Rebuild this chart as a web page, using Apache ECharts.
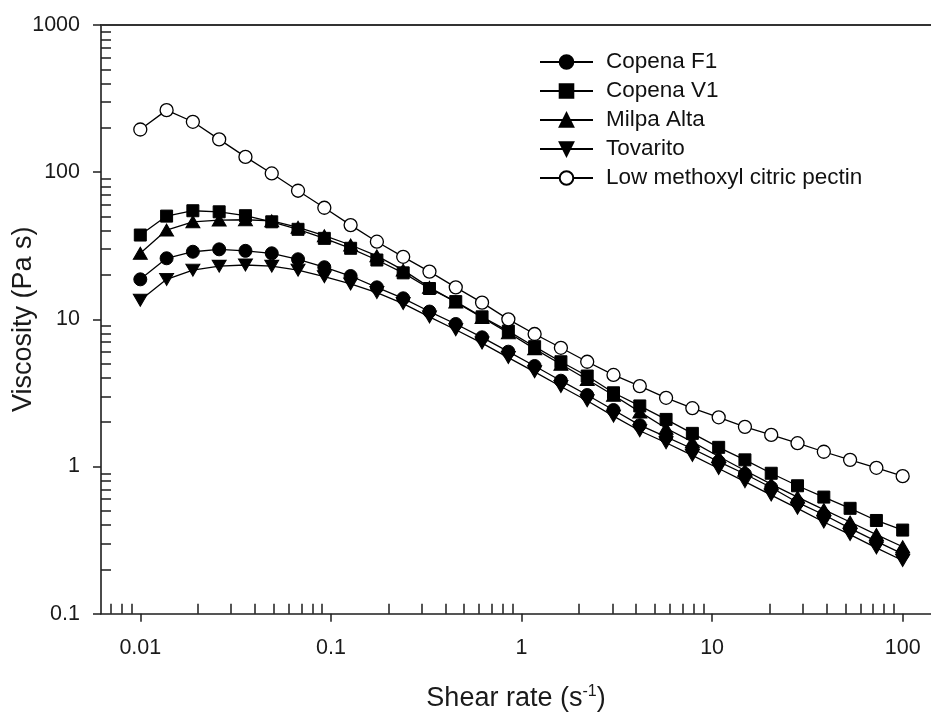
<!DOCTYPE html>
<html><head><meta charset="utf-8">
<script src="https://cdn.jsdelivr.net/npm/echarts@6/dist/echarts.min.js"></script>
<style>html,body{margin:0;padding:0;background:#fff}#c{width:931px;height:713px}</style>
</head><body><div id="c"></div>
<script>
// ---- data ----
const shearRate = [0.01,0.01374,0.01887,0.02593,0.03562,0.04894,0.06723,0.09237,0.1269,0.1743,0.2395,0.3290,0.4520,0.6210,0.8532,1.172,1.610,2.212,3.039,4.175,5.736,7.880,10.83,14.87,20.43,28.07,38.57,52.98,72.79,100];
const copenaF1 = [18.7,26.0,28.8,29.9,29.2,28.1,25.6,22.6,19.7,16.5,13.9,11.3,9.3,7.55,6.03,4.82,3.83,3.06,2.42,1.91,1.59,1.32,1.08,0.89,0.72,0.57,0.47,0.38,0.31,0.255];
const copenaV1 = [37.4,50.3,54.7,53.8,50.6,46.0,40.9,35.5,30.4,25.3,20.7,16.2,13.2,10.4,8.32,6.52,5.15,4.12,3.17,2.58,2.09,1.68,1.35,1.11,0.90,0.74,0.62,0.52,0.43,0.37];
const milpaAlta = [28.1,40.4,46.0,47.3,47.5,46.7,42.2,37.0,32.0,27.0,21.6,16.5,13.1,10.3,8.1,6.3,4.95,3.9,3.05,2.35,1.82,1.47,1.17,0.94,0.76,0.62,0.51,0.42,0.345,0.285];
const tovarito = [13.5,18.7,21.6,23.0,23.4,23.0,21.6,19.5,17.4,15.2,12.8,10.4,8.5,6.9,5.5,4.4,3.5,2.8,2.2,1.75,1.45,1.19,0.97,0.79,0.64,0.52,0.42,0.345,0.28,0.23];
const lowMethoxyl = [195,264,220,167,127,98,74.8,57.3,43.7,33.7,26.6,21.1,16.5,13.0,10.0,7.95,6.41,5.15,4.19,3.52,2.93,2.49,2.16,1.86,1.64,1.44,1.26,1.11,0.98,0.86];
const seriesNames = ['Copena F1','Copena V1','Milpa Alta','Tovarito','Low methoxyl citric pectin'];

// ---- ticks ----
const xMajorTicks = [0.01,0.1,1,10,100];
const xTickLabels = ['0.01','0.1','1','10','100'];
const xMinorTicks = [0.007,0.008,0.009,0.02,0.03,0.04,0.05,0.06,0.07,0.08,0.09,0.2,0.3,0.4,0.5,0.6,0.7,0.8,0.9,2,3,4,5,6,7,8,9,20,30,40,50,60,70,80,90];
const yMajorTicks = [0.1,1,10,100,1000];
const yTickLabels = ['0.1','1','10','100','1000'];
const yMinorTicks = [0.2,0.3,0.4,0.5,0.6,0.7,0.8,0.9,2,3,4,5,6,7,8,9,20,30,40,50,60,70,80,90,200,300,400,500,600,700,800,900];

const xMin = 0.00622, xMax = 140.8, yMin = 0.1, yMax = 1000;
const FONT = "'Liberation Sans', Arial, sans-serif";
const AX = '#1e1e1e';

function labelFor(ticks, labels){
  return function(v){
    const i = ticks.findIndex(t => Math.abs(Math.log10(t) - Math.log10(v)) < 1e-6);
    return i >= 0 ? labels[i] : '';
  };
}

function mk(name, arr, symbol, size, extra){
  return Object.assign({
    name: name, type: 'line', xAxisIndex: 0, yAxisIndex: 0,
    data: shearRate.map((x, i) => [x, arr[i]]),
    symbol: symbol, symbolSize: size, showAllSymbol: true,
    lineStyle: {color: '#000', width: 1.3},
    itemStyle: {color: '#000', borderColor: '#000', borderWidth: 1},
    emphasis: {disabled: true}
  }, extra || {});
}

const chart = echarts.init(document.getElementById('c'), null, {renderer: 'canvas'});
chart.setOption({
  animation: false,
  backgroundColor: '#fff',
  grid: {left: 101, top: 25, right: 0, bottom: 99.3, containLabel: false, outerBoundsMode: 'none'},
  legend: {
    orient: 'vertical', left: 539, top: 50.5, padding: 0,
    itemWidth: 53, itemHeight: 17, itemGap: 6,
    data: seriesNames,
    textStyle: {fontSize: 22.5, lineHeight: 23, color: '#111', fontFamily: FONT, padding: [0,0,0,8]},
    selectedMode: false
  },
  xAxis: [
    {
      type: 'log', logBase: 10, min: xMin, max: xMax, position: 'bottom',
      axisLine: {show: true, onZero: false, lineStyle: {color: AX, width: 1.6}},
      axisTick: {show: true, inside: false, length: 8, lineStyle: {color: AX, width: 1.5}, customValues: xMajorTicks},
      axisLabel: {show: true, customValues: xMajorTicks, formatter: labelFor(xMajorTicks, xTickLabels), fontSize: 21.5, color: '#1a1a1a', fontFamily: FONT, margin: 23},
      splitLine: {show: false}, minorTick: {show: false},
      name: 'Shear rate (s{sup|-1})', nameLocation: 'middle', nameGap: 70, nameMoveOverlap: false,
      nameTextStyle: {fontSize: 27, color: '#1a1a1a', fontFamily: FONT, lineHeight: 30,
        rich: {sup: {fontSize: 16, fontFamily: FONT, color: '#1a1a1a', verticalAlign: 'top', lineHeight: 16}}}
    },
    {
      type: 'log', logBase: 10, min: xMin, max: xMax, position: 'bottom',
      axisLine: {show: false},
      axisTick: {show: true, inside: true, length: 10, lineStyle: {color: AX, width: 1.5}, customValues: xMinorTicks},
      axisLabel: {show: false}, splitLine: {show: false}
    },
    {
      type: 'log', logBase: 10, min: xMin, max: xMax, position: 'top',
      axisLine: {show: true, onZero: false, lineStyle: {color: '#333', width: 1.8}},
      axisTick: {show: false}, axisLabel: {show: false}, splitLine: {show: false}
    }
  ],
  yAxis: [
    {
      type: 'log', logBase: 10, min: yMin, max: yMax, position: 'left',
      axisLine: {show: true, onZero: false, lineStyle: {color: AX, width: 1.6}},
      axisTick: {show: true, inside: false, length: 8, lineStyle: {color: AX, width: 1.5}, customValues: yMajorTicks},
      axisLabel: {show: true, customValues: yMajorTicks, formatter: labelFor(yMajorTicks, yTickLabels), fontSize: 21.5, color: '#1a1a1a', fontFamily: FONT, margin: 21},
      splitLine: {show: false}, minorTick: {show: false},
      name: 'Viscosity (Pa s)', nameLocation: 'middle', nameGap: 64, nameMoveOverlap: false,
      nameTextStyle: {fontSize: 27, color: '#1a1a1a', fontFamily: FONT}
    },
    {
      type: 'log', logBase: 10, min: yMin, max: yMax, position: 'left',
      axisLine: {show: false},
      axisTick: {show: true, inside: true, length: 10, lineStyle: {color: AX, width: 1.5}, customValues: yMinorTicks},
      axisLabel: {show: false}, splitLine: {show: false}
    }
  ],
  series: [
    mk(seriesNames[0], copenaF1, 'circle', 13),
    mk(seriesNames[1], copenaV1, 'rect', 12),
    mk(seriesNames[2], milpaAlta, 'triangle', [14, 12]),
    mk(seriesNames[3], tovarito, 'triangle', [14, 12], {symbolRotate: 180}),
    mk(seriesNames[4], lowMethoxyl, 'circle', 13, {itemStyle: {color: '#fff', borderColor: '#000', borderWidth: 1.3}})
  ]
});
</script>
</body></html>
